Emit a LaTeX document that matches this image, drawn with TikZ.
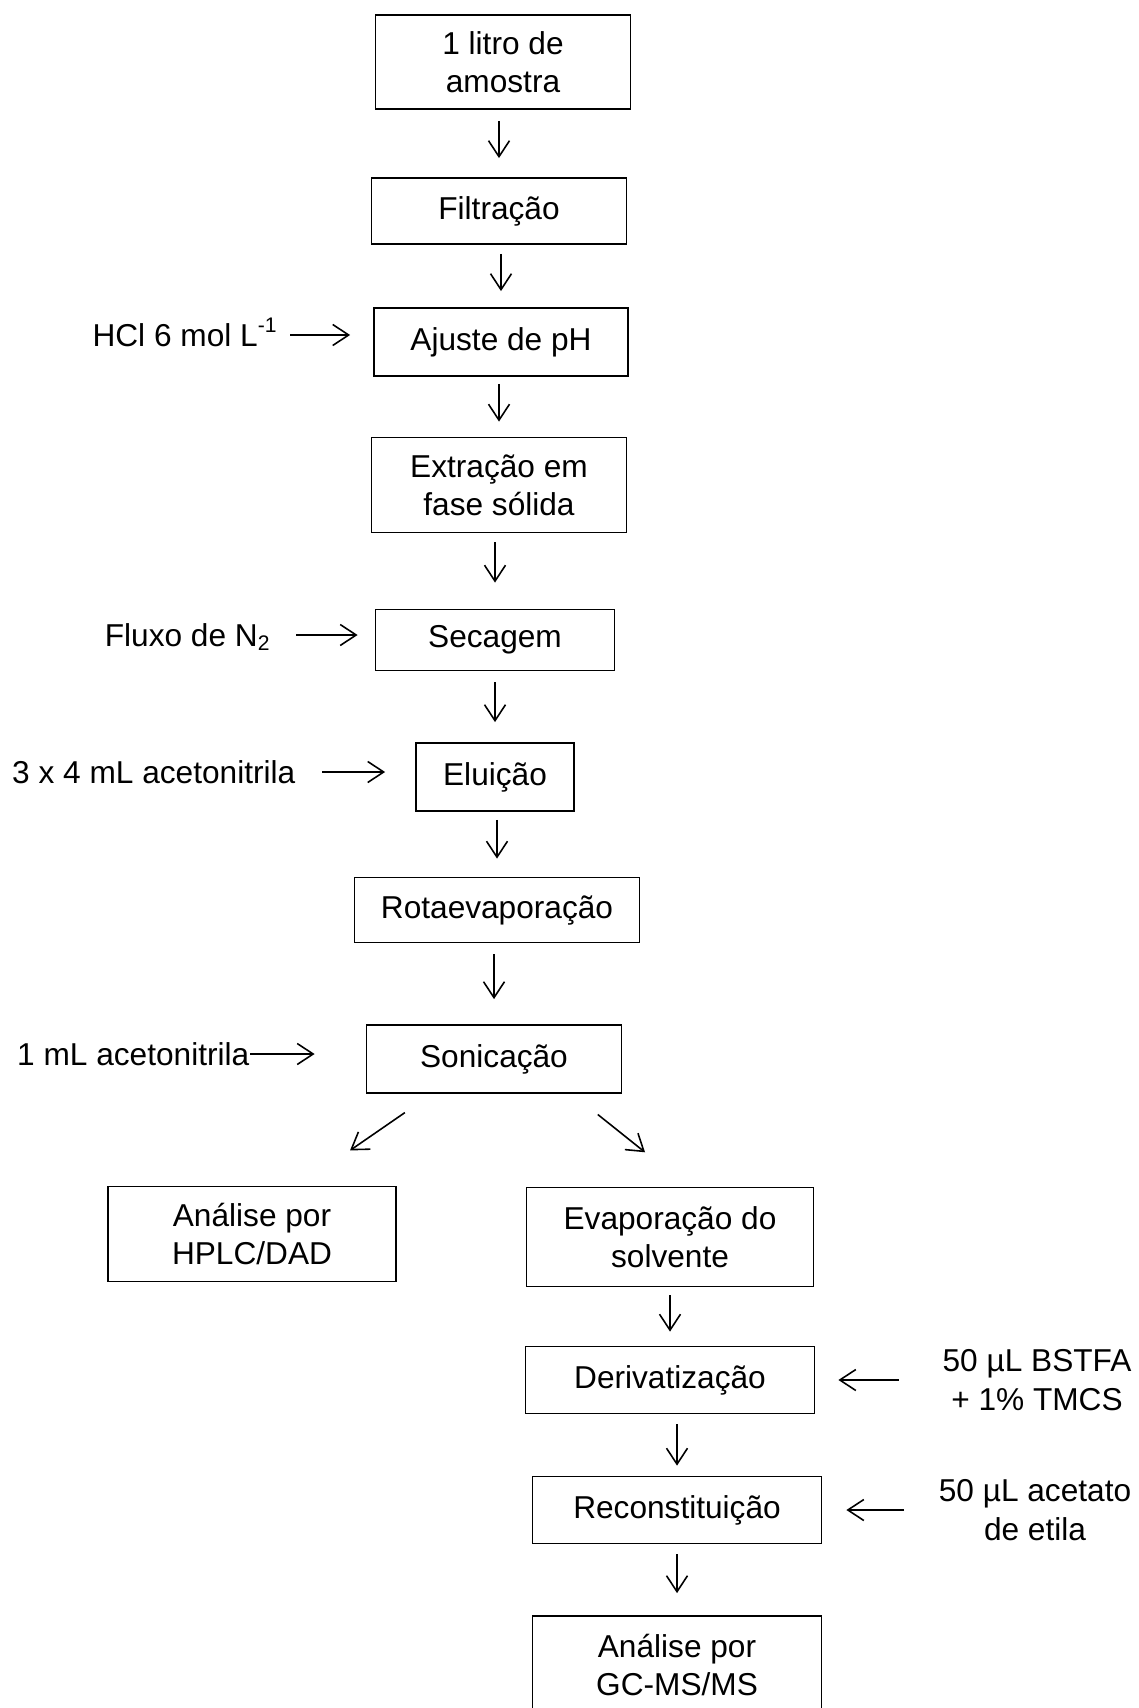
\documentclass[tikz,border=0pt]{standalone}
\usepackage{fontspec}
\setmainfont{Liberation Sans}
\usetikzlibrary{arrows.meta}
\tikzset{
  stage/.style={draw, line width=0.5pt, align=center, inner sep=0pt, font=\fontsize{9}{10.9}\selectfont},
  note/.style={inner sep=0pt, align=center, font=\fontsize{9}{10.9}\selectfont},
  flow/.style={line width=0.45pt, -{Straight Barb[length=1.6mm,width=2.1mm]}},
}
\begin{document}
\begin{tikzpicture}[x=0.1mm, y=-0.1mm]
  \useasboundingbox (0,0) rectangle (1138,1708);
  \clip (0,0) rectangle (1138,1708);
  % main column
  \node[stage, minimum width=25.5mm, minimum height=9.4mm] (amostra) at (503,62) {1 litro de\\amostra};
  \node[stage, minimum width=25.5mm, minimum height=6.6mm] (filtr) at (499,211) {Filtração};
  \node[stage, minimum width=25.4mm, minimum height=6.8mm] (ph) at (501,342) {Ajuste de pH};
  \node[stage, minimum width=25.5mm, minimum height=9.5mm] (spe) at (499,485) {Extração em\\fase sólida};
  \node[stage, minimum width=23.9mm, minimum height=6.1mm] (sec) at (495,640) {Secagem};
  \node[stage, minimum width=15.8mm, minimum height=6.8mm] (elu) at (495,777) {Eluição};
  \node[stage, minimum width=28.5mm, minimum height=6.5mm] (rota) at (497,910) {Rotaevaporação};
  \node[stage, minimum width=25.5mm, minimum height=6.8mm] (soni) at (494,1059) {Sonicação};
  \node[stage, minimum width=28.8mm, minimum height=9.5mm] (hplc) at (252,1234) {Análise por\\HPLC/DAD};
  \node[stage, minimum width=28.7mm, minimum height=9.9mm] (evap) at (670,1237) {Evaporação do\\solvente};
  \node[stage, minimum width=28.9mm, minimum height=6.7mm] (deriv) at (670,1380) {Derivatização};
  \node[stage, minimum width=28.9mm, minimum height=6.7mm] (recon) at (677,1510) {Reconstituição};
  \node[stage, minimum width=28.9mm, minimum height=9.8mm] (gcms) at (677,1665) {Análise por\\GC-MS/MS};

  \foreach \a/\b/\s/\e in {amostra/filtr/11/19, filtr/ph/9/16, ph/spe/7/15, spe/sec/9/26,
      sec/elu/11/20, elu/rota/8/18, rota/soni/11/25, evap/deriv/8/14, deriv/recon/10/10, recon/gcms/10/22}
    \draw[flow, shorten <=\s*0.1mm, shorten >=\e*0.1mm] (\b.north |- \a.south) -- (\b.north);

  % split after sonication
  \draw[flow, shorten <=3.3mm, shorten >=6.2mm] ([xshift=-6.2mm]soni.south) -- ([xshift=4.7mm]hplc.north);
  \draw[flow, shorten <=3.3mm, shorten >=5.5mm] ([xshift=7.8mm]soni.south) -- ([xshift=1.8mm]evap.north);

  % reagents
  \node[note, anchor=east, text height=6.4pt, text depth=0pt] (hcl) at (279,335) {HCl 6 mol L\textsuperscript{-1}};
  \node[note, anchor=east, text height=6.4pt, text depth=0pt] (fluxo) at (272,635) {Fluxo de N\textsubscript{2}};
  \node[note, anchor=east, text height=6.4pt, text depth=0pt] (acn3) at (296,772) {3 x 4 mL acetonitrila};
  \node[note, anchor=east, text height=6.4pt, text depth=0pt] (acn1) at (250,1054) {1 mL acetonitrila};
  \node[note] (bstfa) at (1037,1380) {50 µL BSTFA\\+ 1\% TMCS};
  \node[note] (acet) at (1035,1510) {50 µL acetato\\de etila};

  \draw[flow, shorten <=1.1mm, shorten >=2.3mm] (hcl.east) -- (hcl.east -| ph.west);
  \draw[flow, shorten <=2.4mm, shorten >=1.7mm] (fluxo.east) -- (fluxo.east -| sec.west);
  \draw[flow, shorten <=2.6mm, shorten >=3.0mm] (acn3.east) -- (acn3.east -| elu.west);
  \draw[flow, shorten >=5.1mm] (acn1.east) -- (acn1.east -| soni.west);
  \draw[flow, shorten <=4.3mm, shorten >=2.3mm] (bstfa.west) -- (bstfa.west -| deriv.east);
  \draw[flow, shorten <=3.4mm, shorten >=2.4mm] (acet.west) -- (acet.west -| recon.east);
\end{tikzpicture}
\end{document}
